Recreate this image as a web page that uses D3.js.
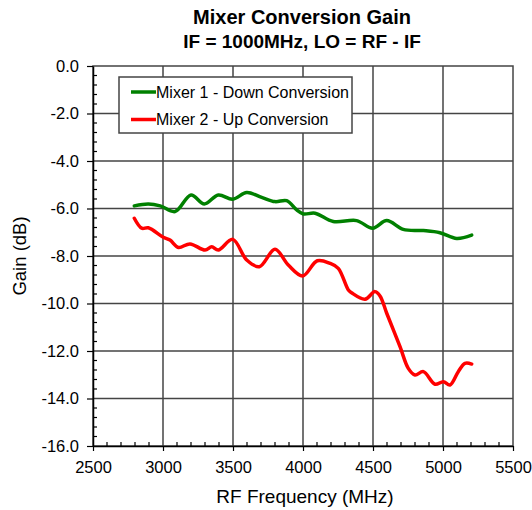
<!DOCTYPE html>
<html><head><meta charset="utf-8">
<script src="https://cdn.jsdelivr.net/npm/d3@7"></script>
<style>body{margin:0;background:#fff}svg{display:block}</style>
</head><body><svg id="c" width="532" height="510"></svg>
<script>
const titleLines = ["Mixer Conversion Gain", "IF = 1000MHz, LO = RF - IF"];
const xTicks = [2500, 3000, 3500, 4000, 4500, 5000, 5500];
const yTicks = [0, -2, -4, -6, -8, -10, -12, -14, -16];
const seriesNames = ["Mixer 1 - Down Conversion", "Mixer 2 - Up Conversion"];
const seriesColors = ["#008000", "#ff0000"];
const freq1 = [2795, 2895, 2980, 3086, 3200, 3295, 3395, 3498, 3598, 3705, 3800, 3883, 3955, 4002, 4086, 4216, 4383, 4498, 4598, 4716, 4860, 4978, 5098, 5205];
const gain1 = [-5.89, -5.81, -5.89, -6.13, -5.43, -5.81, -5.43, -5.61, -5.33, -5.53, -5.71, -5.67, -6.06, -6.23, -6.2, -6.55, -6.51, -6.83, -6.51, -6.88, -6.93, -7.02, -7.26, -7.12];
const freq2 = [2795, 2848, 2895, 3002, 3050, 3110, 3193, 3300, 3348, 3395, 3498, 3598, 3688, 3800, 3895, 3998, 4102, 4193, 4252, 4324, 4348, 4443, 4514, 4550, 4598, 4693, 4752, 4800, 4860, 4943, 5002, 5050, 5109, 5157, 5205];
const gain2 = [-6.41, -6.83, -6.81, -7.21, -7.33, -7.64, -7.49, -7.75, -7.61, -7.75, -7.3, -8.17, -8.45, -7.72, -8.38, -8.84, -8.2, -8.31, -8.52, -9.43, -9.55, -9.82, -9.5, -9.68, -10.41, -11.82, -12.73, -13.01, -12.87, -13.4, -13.29, -13.43, -12.87, -12.52, -12.55];

const svg = d3.select("#c");
const L = 93, R = 513, T = 66, B = 446;
const x = d3.scaleLinear().domain([2500, 5500]).range([L, R]);
const y = d3.scaleLinear().domain([-16, 0]).range([B, T]);
const font = "'Liberation Sans', Arial, sans-serif";
const gridCol = "#444";

// grid
svg.append("g").selectAll("line").data(xTicks.slice(1, -1)).join("line")
  .attr("x1", d => x(d)).attr("x2", d => x(d)).attr("y1", T).attr("y2", B)
  .attr("stroke", gridCol).attr("stroke-width", 1.5);
svg.append("g").selectAll("line").data(yTicks.slice(1, -1)).join("line")
  .attr("x1", L).attr("x2", R).attr("y1", d => y(d)).attr("y2", d => y(d))
  .attr("stroke", gridCol).attr("stroke-width", 1.5);
// border
svg.append("rect").attr("x", L).attr("y", T).attr("width", R - L).attr("height", B - T)
  .attr("fill", "none").attr("stroke", gridCol).attr("stroke-width", 1.5);

// minor ticks (inside)
const xMinor = d3.range(2600, 5500, 100).filter(v => v % 500 !== 0);
svg.append("g").selectAll("line").data(xMinor).join("line")
  .attr("x1", d => x(d)).attr("x2", d => x(d)).attr("y1", B).attr("y2", B - 4)
  .attr("stroke", "#000").attr("stroke-width", 1.2);
const yMinor = d3.range(0, 40).map(i => -i * 0.4).filter(v => Math.abs(v / 2 - Math.round(v / 2)) > 1e-6);
svg.append("g").selectAll("line").data(yMinor).join("line")
  .attr("x1", L).attr("x2", L + 4).attr("y1", d => y(d)).attr("y2", d => y(d))
  .attr("stroke", "#000").attr("stroke-width", 1.2);

// axes
const xAxis = d3.axisBottom(x).tickValues(xTicks).tickSize(5).tickSizeOuter(0).tickPadding(10).tickFormat(d3.format("d"));
const gx = svg.append("g").attr("transform", `translate(0,${B})`).call(xAxis);
const yAxis = d3.axisLeft(y).tickValues(yTicks).tickSize(6).tickSizeOuter(0).tickPadding(8).tickFormat(d3.format(".1f"));
const gy = svg.append("g").attr("transform", `translate(${L},0)`).call(yAxis);
[gx, gy].forEach(g => {
  g.select(".domain").attr("stroke", "#000").attr("stroke-width", 1.5);
  g.selectAll(".tick line").attr("stroke", "#000").attr("stroke-width", 1.2);
  g.selectAll("text").attr("font-family", font).attr("font-size", 16.5).attr("fill", "#000");
});
gy.selectAll("text").text(d => d3.format(".1f")(d).replace("−", "-"));

// lines
const line = d3.line().curve(d3.curveCatmullRom.alpha(0.5)).x(d => x(d[0])).y(d => y(d[1]));
const s1 = freq1.map((f, i) => [f, gain1[i]]);
const s2 = freq2.map((f, i) => [f, gain2[i]]);
[s1, s2].forEach((s, i) => svg.append("path").datum(s).attr("d", line)
  .attr("fill", "none").attr("stroke", seriesColors[i]).attr("stroke-width", 3.5)
  .attr("stroke-linejoin", "round").attr("stroke-linecap", "round"));

// legend
const lg = svg.append("g");
lg.append("rect").attr("x", 119).attr("y", 77).attr("width", 233).attr("height", 56)
  .attr("fill", "#fff").attr("stroke", gridCol).attr("stroke-width", 1.5);
seriesNames.forEach((n, i) => {
  const yy = 92 + i * 27.5;
  lg.append("line").attr("x1", 131).attr("x2", 156).attr("y1", yy).attr("y2", yy)
    .attr("stroke", seriesColors[i]).attr("stroke-width", 3.5);
  lg.append("text").attr("x", 156).attr("y", yy + 5.5).text(n)
    .attr("font-family", font).attr("font-size", 16).attr("fill", "#000");
});

// titles
titleLines.forEach((t, i) => svg.append("text").attr("x", 302).attr("y", 24 + i * 23.5)
  .attr("text-anchor", "middle").attr("font-family", "'Liberation Sans Narrow', 'Liberation Sans', Arial, sans-serif")
  .attr("font-weight", "bold").attr("font-size", i === 0 ? 20 : 19).text(t));
svg.append("text").attr("x", 305).attr("y", 503).attr("text-anchor", "middle")
  .attr("font-family", font).attr("font-size", 19).text("RF Frequency (MHz)");
svg.append("text").attr("transform", "translate(26,256) rotate(-90)").attr("text-anchor", "middle")
  .attr("font-family", font).attr("font-size", 18.5).text("Gain (dB)");
</script></body></html>
